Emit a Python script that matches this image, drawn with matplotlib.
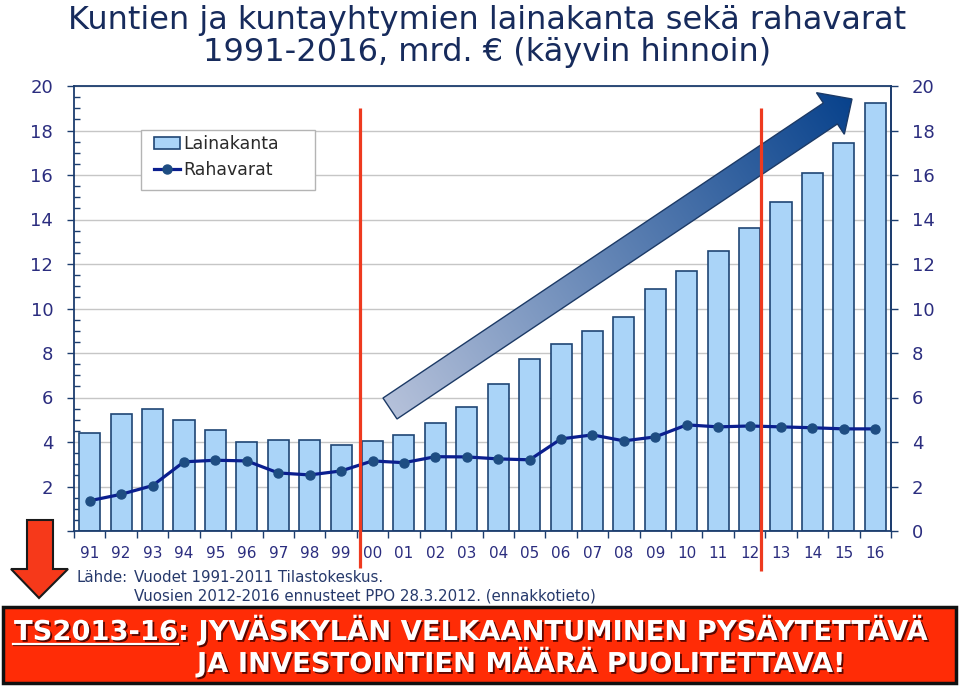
import numpy as np
import matplotlib
matplotlib.use("Agg")
import matplotlib.pyplot as plt
from matplotlib.patches import Polygon, Rectangle
import matplotlib.patheffects as pe
import matplotlib.transforms as mtransforms
from matplotlib.ticker import MultipleLocator, FixedLocator

# ---------------- data ----------------
years = ['91', '92', '93', '94', '95', '96', '97', '98', '99', '00', '01', '02', '03',
         '04', '05', '06', '07', '08', '09', '10', '11', '12', '13', '14', '15', '16']
lainakanta = [4.40, 5.26, 5.48, 4.99, 4.54, 4.00, 4.09, 4.09, 3.87, 4.04, 4.31, 4.85, 5.59,
              6.62, 7.72, 8.40, 9.00, 9.60, 10.88, 11.67, 12.60, 13.63, 14.80, 16.08, 17.43, 19.23]
rahavarat = [1.36, 1.65, 2.04, 3.11, 3.18, 3.15, 2.61, 2.52, 2.70, 3.15, 3.07, 3.34, 3.33,
             3.24, 3.20, 4.14, 4.32, 4.05, 4.23, 4.77, 4.68, 4.72, 4.68, 4.64, 4.59, 4.59]
left_ticks = [0, 2, 4, 6, 8, 10, 12, 14, 16, 18, 20]
left_labels = ['', '2', '4', '6', '8', '10', '12', '14', '16', '18', '20']
right_labels = ['0', '2', '4', '6', '8', '10', '12', '14', '16', '18', '20']
series_names = ['Lainakanta', 'Rahavarat']
title_lines = ['Kuntien ja kuntayhtymien lainakanta sekä rahavarat',
               '1991-2016, mrd. € (käyvin hinnoin)']
source_label = 'Lähde:'
source_lines = ['Vuodet 1991-2011 Tilastokeskus.',
                'Vuosien 2012-2016 ennusteet PPO 28.3.2012. (ennakkotieto)']
banner_underlined = 'TS2013-16'
banner_line1 = ': JYVÄSKYLÄN VELKAANTUMINEN PYSÄYTETTÄVÄ'
banner_line2 = 'JA INVESTOINTIEN MÄÄRÄ PUOLITETTAVA!'
marker_positions = [8.6, 21.36]   # red vertical separators (category units)

# ---------------- styles ----------------
navy = '#1c3d6e'
tick_col = '#2b2d7f'
bar_face = '#aad4f8'
bar_edge = '#1f4674'
line_col = '#0b1f8f'
mark_col = '#1e4d82'
red_line = '#ee3a1f'

W, H = 960, 686
fig = plt.figure(figsize=(W / 100, H / 100), dpi=100)
fig.patch.set_facecolor('white')

ax = fig.add_axes([74 / W, (H - 531) / H, (891 - 74) / W, (531 - 86) / H])
x = np.arange(len(years))
bars = ax.bar(x, lainakanta, width=0.67, color=bar_face, edgecolor=bar_edge,
              linewidth=1.2, zorder=2, label=series_names[0])
line, = ax.plot(x, rahavarat, color=line_col, lw=2.3, marker='o', ms=6.5,
                mfc=mark_col, mec=mark_col, zorder=3, label=series_names[1])

ax.set_xlim(-0.5, len(years) - 0.5)
ax.set_ylim(0, 20)
ax.set_axisbelow(True)
ax.yaxis.grid(True, which='major', color='#c6c6c6', lw=1.0)

for s in ax.spines.values():
    s.set_color(navy)
    s.set_linewidth(1.3)

ax.set_yticks(left_ticks)
ax.set_yticklabels(left_labels)
ax.yaxis.set_minor_locator(MultipleLocator(0.5))
ax.tick_params(axis='y', which='major', direction='out', length=5, width=1,
               color=navy, pad=10, labelsize=13, labelcolor=tick_col)
ax.tick_params(axis='y', which='minor', direction='in', length=4, width=1, color=navy)

ax.set_xticks(x)
ax.set_xticklabels(years)
ax.xaxis.set_minor_locator(FixedLocator(np.arange(-0.5, len(years), 1.0)))
ax.tick_params(axis='x', which='major', length=0, pad=11, labelsize=11, labelcolor=tick_col)
ax.tick_params(axis='x', which='minor', direction='out', length=5, width=1, color=navy)

ax2 = ax.twinx()
ax2.set_ylim(0, 20)
ax2.set_yticks(left_ticks)
ax2.set_yticklabels(right_labels)
ax2.tick_params(axis='y', direction='out', length=5, width=1, color=navy, pad=10,
                labelsize=13, labelcolor=tick_col)
for k, s in ax2.spines.items():
    s.set_visible(k == 'right')
    s.set_color(navy)
    s.set_linewidth(1.3)

# ---------------- overlay (pixel coordinates) ----------------
ov = fig.add_axes([0, 0, 1, 1], zorder=5)
ov.set_xlim(0, W)
ov.set_ylim(H, 0)
ov.axis('off')

# legend box + legend
ov.add_patch(Rectangle((141, 130), 174, 60, facecolor='white', edgecolor='#b4b4b4',
                       lw=1.0, zorder=3))
leg = ov.legend(handles=[bars, line], labels=series_names, loc='upper left',
                bbox_to_anchor=(154, 135), bbox_transform=ov.transData,
                frameon=False, borderpad=0, borderaxespad=0, fontsize=12.5,
                handlelength=1.5, handleheight=0.65, handletextpad=0.2,
                labelspacing=0.45, numpoints=1)
leg.set_zorder(4)
for t in leg.get_texts():
    t.set_color('#2a2a2a')

# title
ov.text(487, 20, title_lines[0], ha='center', va='center', fontsize=23, color='#172b5c')
ov.text(487, 53, title_lines[1], ha='center', va='center', fontsize=23, color='#172b5c')

# big gradient arrow
T = np.array([390.0, 408.5])
P = np.array([852.0, 99.0])
L = np.linalg.norm(P - T)
u = (P - T) / L
n = np.array([-u[1], u[0]])
hw, hh, hl = 12.6, 25.0, 26.0
B = T + u * (L - hl)
pts = [T + n * hw, B + n * hw, B + n * hh, P, B - n * hh, B - n * hw, T - n * hw]
arrow = Polygon(pts, closed=True, facecolor='none', edgecolor='#1c3a66', lw=1.0, zorder=2)
ov.add_patch(arrow)
yy, xx = np.mgrid[0:H, 0:W] + 0.5
tt = np.clip(((xx - T[0]) * u[0] + (yy - T[1]) * u[1]) / L, 0, 1)
c0 = np.array([181, 193, 218]) / 255.0
c1 = np.array([8, 66, 140]) / 255.0
img = c0[None, None, :] * (1 - tt[..., None]) + c1[None, None, :] * tt[..., None]
im = ov.imshow(img, extent=(0, W, H, 0), aspect='auto', interpolation='bilinear', zorder=1.9)
im.set_clip_path(arrow)
ov.set_xlim(0, W)
ov.set_ylim(H, 0)

# red separator lines (x in data categories, y in pixels)
blend = mtransforms.blended_transform_factory(ax.transData, ov.transData)
ov.plot([marker_positions[0]] * 2, [108, 568], transform=blend, color=red_line,
        lw=2.3, solid_capstyle='butt', zorder=6)
ov.plot([marker_positions[1]] * 2, [108, 571], transform=blend, color=red_line,
        lw=2.3, solid_capstyle='butt', zorder=6)

# source text
src_col = '#26396b'
ov.text(128, 577, source_label, ha='right', va='center', fontsize=10.8, color=src_col)
ov.text(134, 577, source_lines[0], ha='left', va='center', fontsize=10.8, color=src_col)
ov.text(134, 596, source_lines[1], ha='left', va='center', fontsize=10.8, color=src_col)

# red down arrow
down = [(27, 520), (53, 520), (53, 569), (68, 569), (39, 598), (11, 569), (27, 569)]
ov.add_patch(Polygon(down, closed=True, facecolor='#f6391a', edgecolor='#1a1a1a',
                     lw=1.5, zorder=6))

# banner
ov.add_patch(Rectangle((3, 607), 953, 76, facecolor='#ff2c06', edgecolor='#111111',
                       lw=2.5, zorder=6))
fs_b = 19.7
shadow = [pe.withSimplePatchShadow(offset=(1.3, -1.3), shadow_rgbFace='#3a0000', alpha=0.85)]
t1 = ov.text(14, 640, banner_underlined, ha='left', va='baseline', fontsize=fs_b,
             fontweight='bold', color='white', zorder=7, path_effects=shadow)
renderer = fig.canvas.get_renderer()
bb = t1.get_window_extent(renderer=renderer).transformed(ov.transData.inverted())
x_end = max(bb.x0, bb.x1)
ov.text(x_end, 640, banner_line1, ha='left', va='baseline', fontsize=fs_b,
        fontweight='bold', color='white', zorder=7, path_effects=shadow)
ov.plot([13, x_end], [643.5, 643.5], color='white', lw=1.6, zorder=7,
        path_effects=[pe.SimpleLineShadow(offset=(1.0, -1.0), shadow_color='#3a0000', alpha=0.85),
                      pe.Normal()])
ov.text(197, 672, banner_line2, ha='left', va='baseline', fontsize=fs_b,
        fontweight='bold', color='white', zorder=7, path_effects=shadow)

fig.savefig('out.png', dpi=100)
